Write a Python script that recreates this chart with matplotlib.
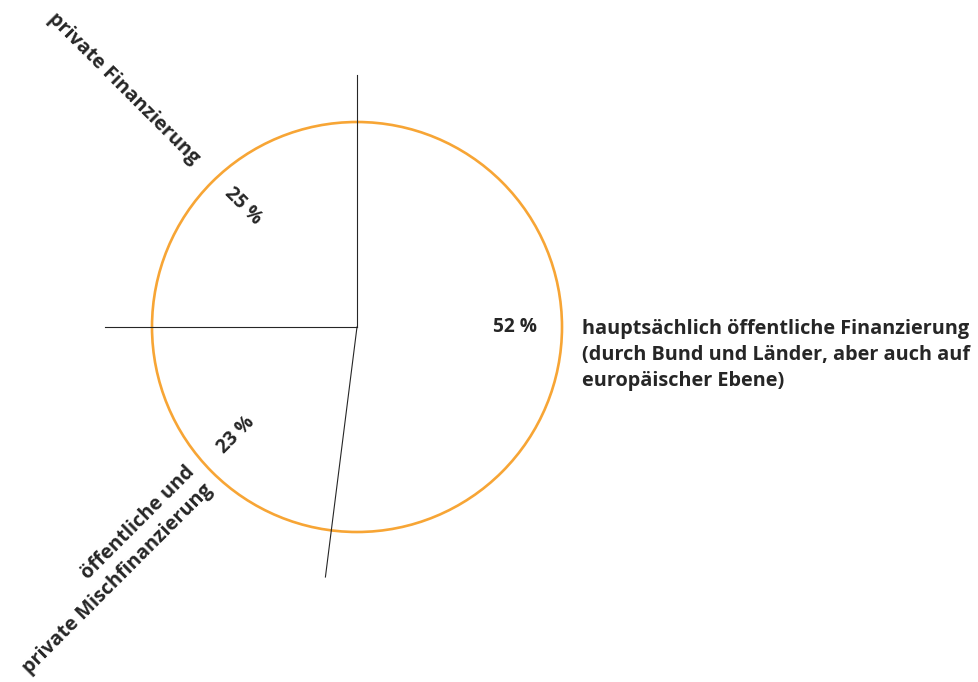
import numpy as np
import matplotlib.pyplot as plt
from matplotlib.patches import Circle

# shares, clockwise from the top
shares = [52, 23, 25]
pct_labels = ['52 %', '23 %', '25 %']
cat_labels = ['hauptsächlich öffentliche Finanzierung\n(durch Bund und Länder, aber auch auf\neuropäischer Ebene)',
              'öffentliche und\nprivate Mischfinanzierung',
              'private Finanzierung']

orange = '#F7A535'
dark = '#262626'
plt.rcParams['font.family'] = ['Open Sans', 'DejaVu Sans']

fig = plt.figure(figsize=(9.79, 6.82), dpi=100)
ax = fig.add_axes([0, 0, 1, 1])
ax.set_xlim(0, 979)
ax.set_ylim(682, 0)
ax.set_aspect('equal')
ax.axis('off')

cx, cy, r = 357, 327, 205
rl = 252  # length of the divider lines

ax.add_patch(Circle((cx, cy), r, fill=False, edgecolor=orange, lw=1.9, zorder=2))

# divider lines at the slice boundaries
bounds = 90 - 360 * np.cumsum([0] + shares) / 100.0
for a in bounds[:-1]:
    t = np.radians(a)
    ax.plot([cx, cx + rl * np.cos(t)], [cy, cy - rl * np.sin(t)], color=dark, lw=0.8, zorder=3)

fs = 14.3
# percentage labels
ax.text(515, 327, pct_labels[0], fontsize=13.8, fontweight='bold', color=dark, ha='center', va='center')
ax.text(236, 435, pct_labels[1], fontsize=13.8, fontweight='bold', color=dark, ha='center', va='center', rotation=45)
ax.text(243, 206, pct_labels[2], fontsize=13.8, fontweight='bold', color=dark, ha='center', va='center', rotation=-45)

# category labels
ax.text(582, 355, cat_labels[0], fontsize=fs, fontweight='bold', color=dark, ha='left', va='center',
        linespacing=1.41)
ax.text(109, 570, cat_labels[1], fontsize=fs, fontweight='bold', color=dark, ha='center', va='center',
        rotation=45, rotation_mode='anchor', multialignment='right', linespacing=1.35)
ax.text(124, 88, cat_labels[2], fontsize=fs, fontweight='bold', color=dark, ha='center', va='center',
        rotation=-45, rotation_mode='anchor')

fig.savefig('out.png', dpi=100)
